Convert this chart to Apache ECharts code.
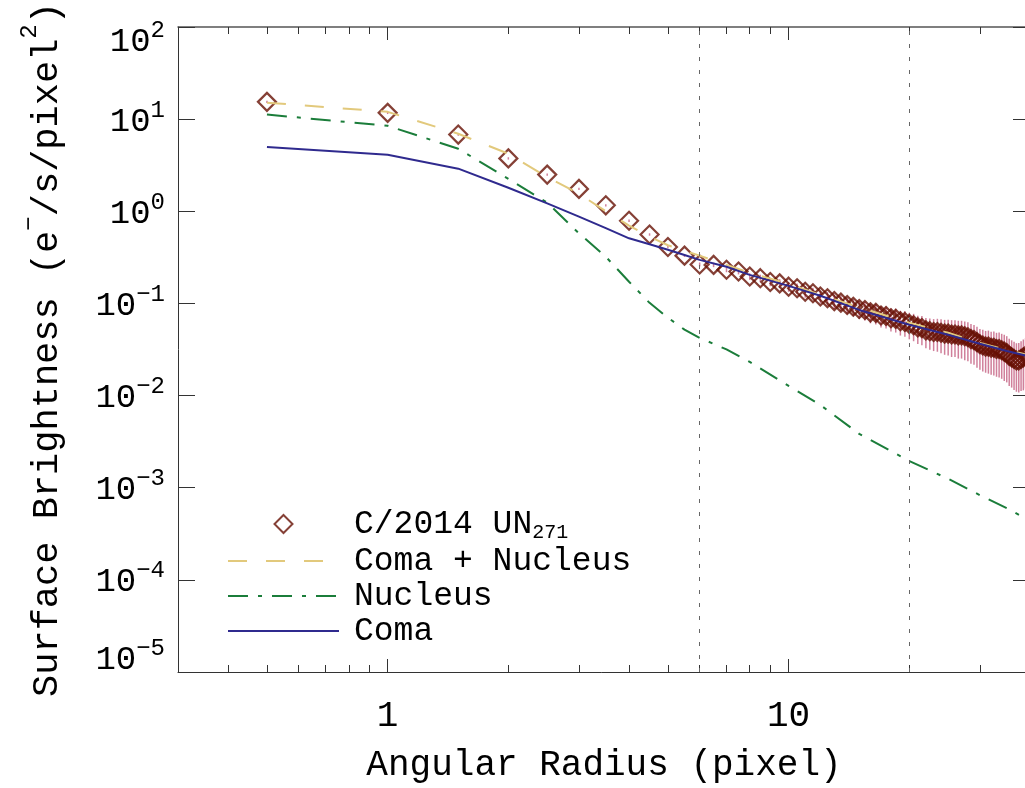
<!DOCTYPE html>
<html>
<head>
<meta charset="utf-8">
<script src="https://cdn.jsdelivr.net/npm/echarts@6/dist/echarts.min.js"></script>
<style>
  html, body { margin: 0; padding: 0; background: #fff; }
  #chart { width: 1025px; height: 788px; }
</style>
</head>
<body>
<div id="chart"></div>
<script>
// surface brightness profile, radius in pixel
const radius = [
  0.5, 1, 1.5, 2, 2.5, 3, 3.5, 4, 4.5, 5, 5.5, 6, 6.5, 7, 7.5, 8, 8.5, 9, 9.5, 10,
  10.5, 11, 11.5, 12, 12.5, 13, 13.5, 14, 14.5, 15, 15.5, 16, 16.5, 17, 17.5, 18, 18.5, 19, 19.5, 20,
  20.5, 21, 21.5, 22, 22.5, 23, 23.5, 24, 24.5, 25, 25.5, 26, 26.5, 27, 27.5, 28, 28.5, 29, 29.5, 30,
  30.5, 31, 31.5, 32, 32.5, 33, 33.5, 34, 34.5, 35, 35.5, 36, 36.5, 37, 37.5, 38, 38.5, 39, 39.5, 40
];
const brightness = [
  15.4, 11.7, 6.8, 3.75, 2.5, 1.75, 1.16, 0.79, 0.56, 0.41, 0.33, 0.265, 0.262, 0.232, 0.222, 0.196, 0.188, 0.171, 0.165, 0.152,
  0.146, 0.134, 0.129, 0.119, 0.114, 0.106, 0.102, 0.096, 0.092, 0.087, 0.085, 0.080, 0.079, 0.074, 0.073, 0.069, 0.068, 0.064, 0.063, 0.060,
  0.058, 0.055, 0.054, 0.051, 0.050, 0.049, 0.049, 0.048, 0.047, 0.047, 0.046, 0.046, 0.045, 0.045, 0.044, 0.043, 0.041, 0.040, 0.038, 0.036,
  0.035, 0.034, 0.034, 0.033, 0.033, 0.032, 0.032, 0.031, 0.030, 0.029, 0.027, 0.026, 0.025, 0.024, 0.024, 0.025, 0.026, 0.027, 0.027, 0.026
];
const brightnessErr = [
  0.46, 0.35, 0.2, 0.11, 0.075, 0.05, 0.035, 0.024, 0.017, 0.013, 0.011, 0.013, 0.0144, 0.0139, 0.0155, 0.0157, 0.0169, 0.0171, 0.0182, 0.0182,
  0.019, 0.0188, 0.0194, 0.019, 0.0194, 0.0191, 0.0194, 0.0192, 0.0193, 0.0191, 0.0196, 0.0192, 0.0198, 0.0192, 0.0197, 0.0193, 0.0197, 0.0192, 0.0195, 0.0192,
  0.0191, 0.0187, 0.0189, 0.0184, 0.0185, 0.0186, 0.0191, 0.0192, 0.0193, 0.0197, 0.0198, 0.0198, 0.0198, 0.0198, 0.0198, 0.0194, 0.0189, 0.0184, 0.0179, 0.0169,
  0.0168, 0.0163, 0.0167, 0.0162, 0.0165, 0.016, 0.0163, 0.0158, 0.0156, 0.0151, 0.0143, 0.0138, 0.0135, 0.013, 0.0132, 0.0138, 0.0146, 0.0151, 0.0154, 0.0148
];

// model curves
const modelRadius = [0.5, 1, 1.5, 2, 2.5, 3, 3.5, 4, 4.5, 5, 5.5, 6, 7, 8, 10, 12, 15, 20, 25, 30, 35, 40];
const comaNucleus = [15.1, 12.0, 6.94, 4.21, 2.35, 1.55, 1.0, 0.70, 0.53, 0.428, 0.372, 0.33, 0.262, 0.215, 0.163, 0.124, 0.0907, 0.0616, 0.048, 0.0373, 0.0313, 0.0272];
const nucleus = [11.2, 8.48, 4.77, 2.25, 1.24, 0.577, 0.321, 0.172, 0.1015, 0.07, 0.052, 0.0423, 0.0317, 0.0232, 0.01277, 0.0079, 0.00384, 0.00195, 0.00125, 0.00083, 0.0006, 0.000437];
const coma = [5.0, 4.1, 2.9, 1.8, 1.22, 0.876, 0.657, 0.509, 0.438, 0.382, 0.335, 0.297, 0.25, 0.204, 0.155, 0.121, 0.085, 0.0586, 0.0458, 0.0365, 0.0305, 0.0265];

const apertures = [6, 20];

const xMajor = [1, 10];
const xMinor = [0.4, 0.5, 0.6, 0.7, 0.8, 0.9, 2, 3, 4, 5, 6, 7, 8, 9, 20, 30];
const yMajor = [1e-5, 1e-4, 1e-3, 1e-2, 1e-1, 1, 10, 100];

const FONT = "'Liberation Mono', 'DejaVu Sans Mono', monospace";
const AXIS_COLOR = "#333";
const DATA_NAME = "C/2014 UN271";
const DIAMOND_COLOR = "#661004";

const zip = (xs, ys) => xs.map((x, i) => [x, ys[i]]);

const chart = echarts.init(document.getElementById("chart"));

// 10^n labels; the end labels are nudged inside the axis like the original plot
const sup = (v) => {
    const e = Math.round(Math.log10(v));
    const txt = e < 0 ? "\u2212" + (-e) : String(e);
    let tag = "";
    if (e === 2) tag = "t";
    if (e === -5) tag = "z";
    return "{b" + tag + "|10}{s" + tag + "|" + txt + "}";
};

const lbl = (size, pad) => ({ fontFamily: FONT, fontSize: size, lineHeight: size, padding: pad, color: "#000" });

const xBase = {
    type: "log",
    logBase: 10,
    min: 0.3,
    max: 40,
    gridIndex: 0,
    splitLine: { show: false },
    axisLabel: { show: false },
};

// legend entries for the model lines: hide the marker dot, keep the line
const lineLegendItem = (name) => ({
    name,
    itemStyle: { opacity: 0, color: "rgba(0,0,0,0)", borderWidth: 0 },
});

const option = {
    animation: false,
    backgroundColor: "#fff",
    grid: { left: 178, right: -5, top: 27, bottom: 116, outerBoundsMode: "none", containLabel: false },
    legend: {
        orient: "vertical",
        left: 222,
        top: 500,
        itemWidth: 111,
        itemHeight: 18,
        itemGap: 1,
        selectedMode: false,
        symbolKeepAspect: true,
        formatter: (name) => (name === DATA_NAME ? "C/2014 UN{sub|271}" : name),
        textStyle: {
            fontFamily: FONT,
            fontSize: 33,
            lineHeight: 34,
            color: "#000",
            padding: [0, 0, 0, 10],
            rich: {
                sub: { fontFamily: FONT, fontSize: 20, lineHeight: 16, padding: [18, 0, 0, 0], color: "#000" },
            },
        },
        data: [
            {
                name: DATA_NAME,
                icon: "path://M10 0L20 10L10 20L0 10Z",
                itemStyle: { color: "rgba(0,0,0,0)", borderColor: DIAMOND_COLOR, borderWidth: 2 },
            },
            lineLegendItem("Coma + Nucleus"),
            lineLegendItem("Nucleus"),
            lineLegendItem("Coma"),
        ],
    },
    xAxis: [
        {
            ...xBase,
            position: "bottom",
            axisLine: { show: true, lineStyle: { color: AXIS_COLOR, width: 1 } },
            axisTick: { inside: true, length: 13, customValues: xMajor, lineStyle: { color: AXIS_COLOR } },
            axisLabel: {
                show: true,
                customValues: xMajor,
                margin: 26,
                fontFamily: FONT,
                fontSize: 36,
                color: "#000",
                formatter: (v) => String(v),
            },
            name: "Angular Radius (pixel)",
            nameLocation: "middle",
            nameGap: 75,
            nameTextStyle: { fontFamily: FONT, fontSize: 36, color: "#000" },
        },
        {
            ...xBase,
            position: "bottom",
            axisLine: { show: false },
            axisTick: { inside: true, length: 7, customValues: xMinor, lineStyle: { color: AXIS_COLOR } },
        },
        {
            ...xBase,
            position: "top",
            axisLine: { show: true, lineStyle: { color: "#555", width: 1.5 } },
            axisTick: { inside: true, length: 13, customValues: xMajor, lineStyle: { color: AXIS_COLOR } },
        },
        {
            ...xBase,
            position: "top",
            axisLine: { show: false },
            axisTick: { inside: true, length: 7, customValues: xMinor, lineStyle: { color: AXIS_COLOR } },
        },
    ],
    yAxis: [
        {
            type: "log",
            logBase: 10,
            min: 1e-5,
            max: 100,
            position: "left",
            splitLine: { show: false },
            axisLine: { show: true, lineStyle: { color: AXIS_COLOR, width: 1 } },
            axisTick: { inside: true, length: 17, customValues: yMajor, lineStyle: { color: AXIS_COLOR } },
            axisLabel: {
                customValues: yMajor,
                margin: 13,
                color: "#000",
                fontFamily: FONT,
                formatter: sup,
                rich: {
                    b: lbl(34, [5, 0, 0, 0]),
                    s: lbl(24, [0, 0, 18, 0]),
                    bt: lbl(34, [29, 0, 0, 0]),
                    st: lbl(24, [8, 0, 0, 0]),
                    bz: lbl(34, [0, 0, 24, 0]),
                    sz: lbl(24, [0, 0, 47, 0]),
                },
            },
            name: "Surface Brightness (e{s|\u2212}/s/pixel{s|2})",
            nameLocation: "middle",
            nameGap: 112,
            nameTextStyle: {
                fontFamily: FONT,
                fontSize: 37,
                lineHeight: 37,
                color: "#000",
                rich: {
                    s: lbl(24, [0, 0, 35, 0]),
                },
            },
        },
        {
            type: "log",
            logBase: 10,
            min: 1e-5,
            max: 100,
            position: "right",
            splitLine: { show: false },
            axisLabel: { show: false },
            axisLine: { show: true, lineStyle: { color: AXIS_COLOR, width: 1 } },
            axisTick: { inside: true, length: 17, customValues: yMajor, lineStyle: { color: AXIS_COLOR } },
        },
    ],
    series: [
        {
            name: "errors",
            type: "custom",
            xAxisIndex: 0,
            yAxisIndex: 0,
            clip: true,
            silent: true,
            data: radius.map((r, i) => [r, brightness[i] - brightnessErr[i], brightness[i] + brightnessErr[i]]),
            encode: { x: 0, y: [1, 2] },
            renderItem: (params, api) => {
                const lo = api.coord([api.value(0), api.value(1)]);
                const hi = api.coord([api.value(0), api.value(2)]);
                return {
                    type: "line",
                    shape: { x1: lo[0], y1: lo[1], x2: hi[0], y2: hi[1] },
                    style: { stroke: "#c0557a", lineWidth: 1.5, opacity: 0.75 },
                };
            },
        },
        {
            name: DATA_NAME,
            type: "scatter",
            xAxisIndex: 0,
            yAxisIndex: 0,
            symbol: "diamond",
            symbolSize: 18,
            silent: true,
            itemStyle: { color: "rgba(0,0,0,0)", borderColor: DIAMOND_COLOR, borderWidth: 2.2 },
            data: zip(radius, brightness),
        },
        {
            name: "Coma + Nucleus",
            type: "line",
            xAxisIndex: 0,
            yAxisIndex: 0,
            symbol: "none",
            silent: true,
            lineStyle: { color: "#e2c97c", width: 2, type: [19, 19] },
            itemStyle: { color: "#e2c97c" },
            data: zip(modelRadius, comaNucleus),
        },
        {
            name: "Nucleus",
            type: "line",
            xAxisIndex: 0,
            yAxisIndex: 0,
            symbol: "none",
            silent: true,
            lineStyle: { color: "#1b7d3a", width: 2, type: [20, 10, 4, 10] },
            itemStyle: { color: "#1b7d3a" },
            data: zip(modelRadius, nucleus),
        },
        {
            name: "Coma",
            type: "line",
            xAxisIndex: 0,
            yAxisIndex: 0,
            symbol: "none",
            silent: true,
            lineStyle: { color: "#2f2a8e", width: 2 },
            itemStyle: { color: "#2f2a8e" },
            data: zip(modelRadius, coma),
            markLine: {
                silent: true,
                symbol: ["none", "none"],
                label: { show: false },
                lineStyle: { color: "#666", width: 1, type: [4, 9] },
                data: apertures.map((a) => ({ xAxis: a })),
            },
        },
    ],
};

chart.setOption(option);
</script>
</body>
</html>
